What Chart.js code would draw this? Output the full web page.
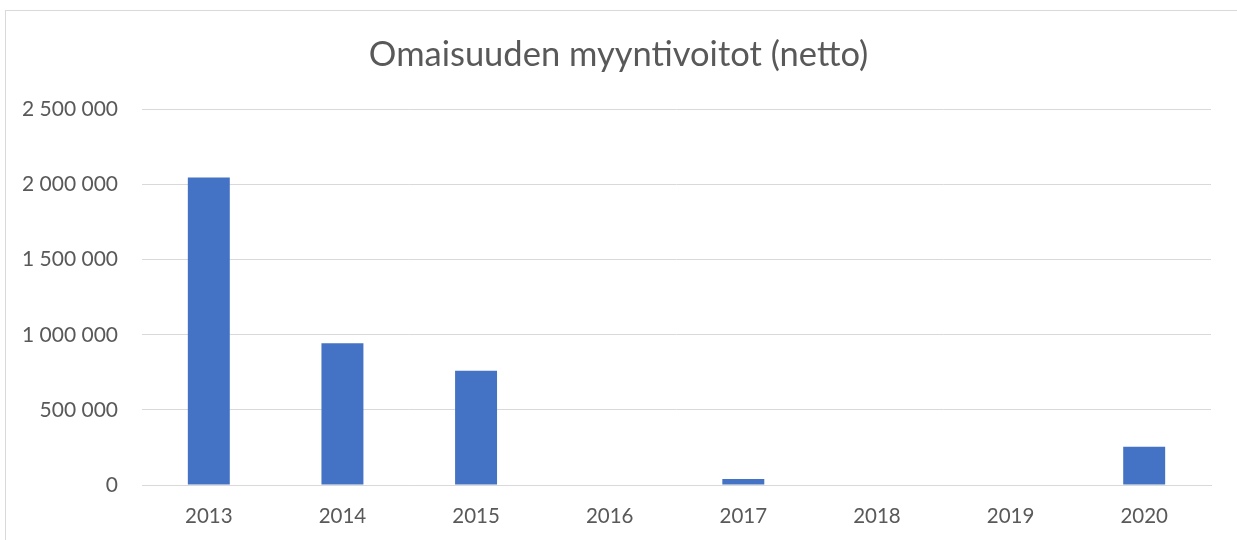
<!DOCTYPE html>
<html>
<head>
<meta charset="utf-8">
<script src="https://cdn.jsdelivr.net/npm/chart.js@4"></script>
<style>
  html, body { margin: 0; padding: 0; background: #fff; overflow: hidden; }
  #frame {
    position: absolute; left: 5px; top: 10px;
    width: 1400px; height: 700px;
    border: 1px solid #d9d9d9;
  }
  #wrap { position: absolute; left: 0; top: 0; width: 1237px; height: 540px; }
</style>
</head>
<body>
<div id="frame"></div>
<div id="wrap"><canvas id="chart" width="1237" height="540"></canvas></div>
<script>
const years = ["2013", "2014", "2015", "2016", "2017", "2018", "2019", "2020"];
const gains = [2046000, 944000, 760000, 0, 40000, 0, 0, 255000];
const yTicks = [0, 500000, 1000000, 1500000, 2000000, 2500000];

const titleText = "Omaisuuden myyntivoitot (netto)";
const textColor = "#595959";
const gridColor = "#d9d9d9";

function fmt(v) {
  return String(v).replace(/\B(?=(\d{3})+(?!\d))/g, " ");
}

const ctx = document.getElementById("chart");
const chart = new Chart(ctx, {
  type: "bar",
  data: {
    labels: years,
    datasets: [
      {
        label: titleText,
        data: gains,
        backgroundColor: "#4472c4",
        borderWidth: 0,
        barPercentage: 0.314,
        categoryPercentage: 1,
      },
    ],
  },
  options: {
    responsive: false,
    animation: false,
    layout: { padding: 0 },
    plugins: {
      legend: { display: false },
      tooltip: { enabled: false },
      title: {
        display: true,
        text: titleText,
        color: textColor,
        font: { family: "Lato", size: 34.5, weight: "normal", lineHeight: 1.2 },
        padding: { top: 34, bottom: 34 },
      },
    },
    scales: {
      x: {
        grid: { display: false, drawTicks: false },
        border: { display: true, color: gridColor, width: 1 },
        ticks: {
          color: textColor,
          font: { family: "Lato", size: 20.5 },
          padding: 19,
          maxRotation: 0,
        },
        afterFit: (scale) => { scale.height = 55; },
      },
      y: {
        min: yTicks[0],
        max: yTicks[yTicks.length - 1],
        grid: { color: gridColor, lineWidth: 1, drawTicks: false },
        border: { display: false },
        afterBuildTicks: (scale) => {
          scale.ticks = yTicks.map((v) => ({ value: v }));
        },
        ticks: {
          color: textColor,
          font: { family: "Lato", size: 21 },
          padding: 24,
          callback: (v) => fmt(v),
        },
        afterFit: (scale) => { scale.width = 142; },
      },
      // empty right margin so the title stays centred on the whole canvas
      spacer: {
        type: "linear",
        position: "right",
        grid: { display: false, drawTicks: false },
        border: { display: false },
        ticks: { display: false },
        afterFit: (scale) => { scale.width = 26; },
      },
    },
  },
});
</script>
</body>
</html>
